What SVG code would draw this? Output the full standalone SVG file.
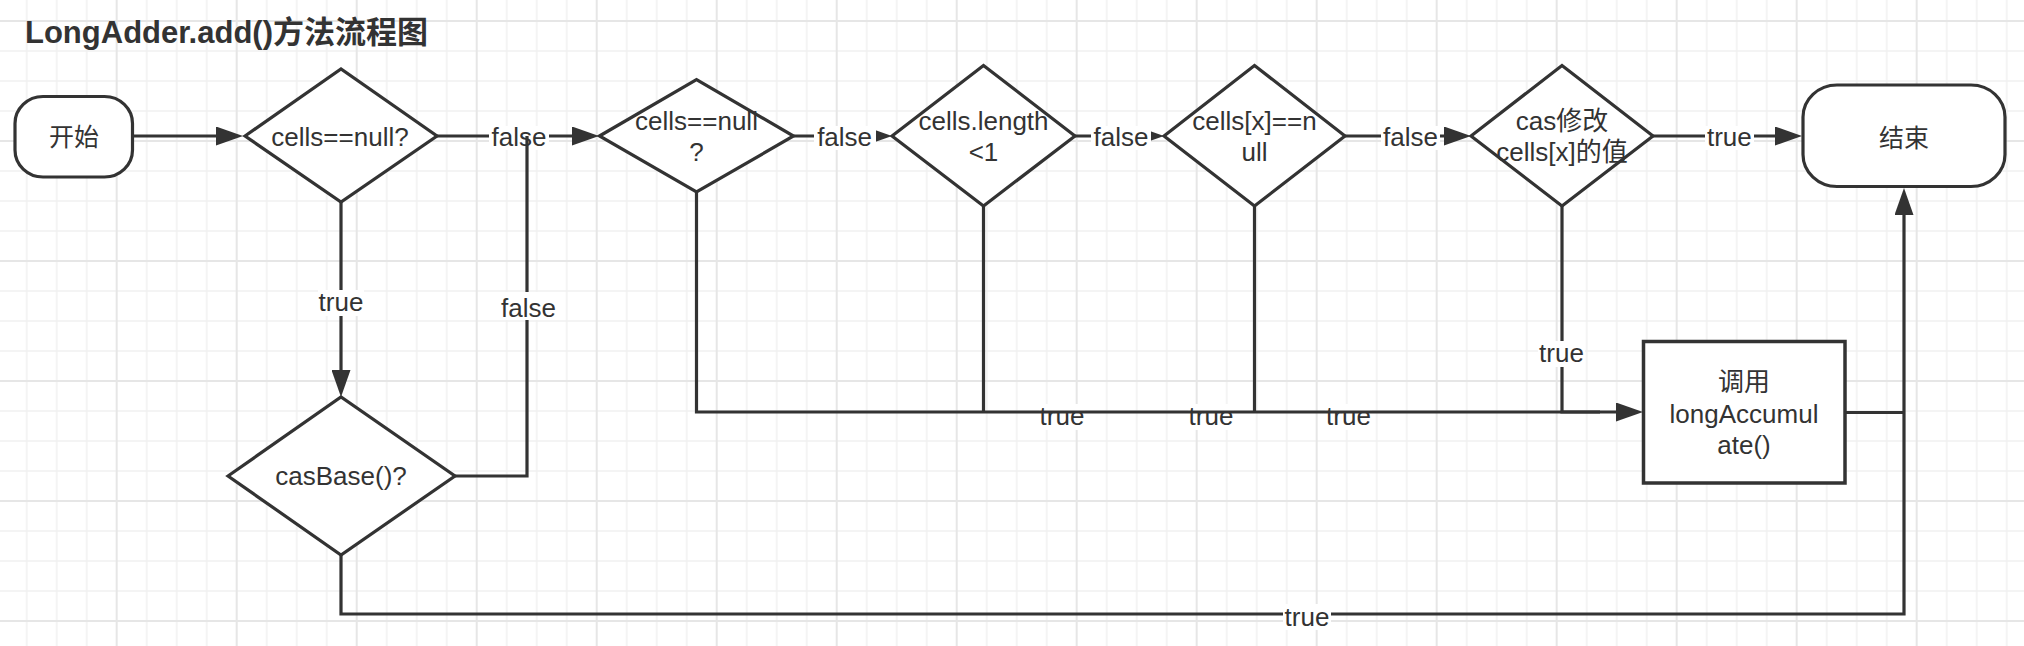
<svg xmlns="http://www.w3.org/2000/svg" width="2024" height="646" viewBox="0 0 2024 646">
<style>
text{font-family:"Liberation Sans","Noto Sans CJK SC",sans-serif;fill:#333;text-anchor:middle}
.n{font-size:26px}
.t{font-size:25px}
.shape{fill:#fff;stroke:#333;stroke-width:3.2;stroke-linejoin:miter}
.e{fill:none;stroke:#333;stroke-width:3.2}
.a{marker-end:url(#arr)}
.lb{fill:#fff}
.l{font-size:26px}
</style>
<defs>
<pattern id="grid" patternUnits="userSpaceOnUse" x="-18.3" y="6" width="120" height="120">
<rect width="120" height="120" fill="#fff"/>
<path d="M45 0V120M75 0V120M105 0V120M0 45H120M0 75H120M0 105H120" stroke="#f1f1f1" stroke-width="1.5"/>
<path d="M15 0V120M0 15H120" stroke="#e6e6e6" stroke-width="2"/>
</pattern>
<marker id="arr" markerUnits="userSpaceOnUse" viewBox="0 0 27 19" markerWidth="27" markerHeight="19" refX="17" refY="9.5" orient="auto">
<path d="M0 0L27 9.5L0 19Z" fill="#333"/>
</marker>
</defs>
<rect width="2024" height="646" fill="url(#grid)"/>
<text x="25" y="43" style="text-anchor:start;font-size:31px;font-weight:bold">LongAdder.add()方法流程图</text>

<g id="connectors">
<path class="e a" d="M133 136H233"/>
<path class="e a" d="M437 136H589"/>
<rect class="lb" x="489" y="126" width="60" height="24"/>
<text class="l" x="519" y="146">false</text>
<path class="e" d="M455 476H527V136"/>
<rect class="lb" x="498" y="292" width="60" height="28"/>
<text class="l" x="528.5" y="317">false</text>
<path class="e a" d="M341 202V387"/>
<rect class="lb" x="318" y="290" width="46" height="26"/>
<text class="l" x="341" y="311">true</text>
<path class="e a" d="M793.5 136H882"/>
<rect class="lb" x="814" y="126" width="62" height="24"/>
<text class="l" x="844.6" y="146">false</text>
<path class="e a" d="M1075 136H1154"/>
<rect class="lb" x="1091" y="126" width="60" height="24"/>
<text class="l" x="1121" y="146">false</text>
<path class="e a" d="M1345 136H1461"/>
<rect class="lb" x="1381" y="126" width="59" height="24"/>
<text class="l" x="1410.5" y="146">false</text>
<path class="e a" d="M1653 136H1792"/>
<rect class="lb" x="1705" y="126" width="49" height="24"/>
<text class="l" x="1729.4" y="146">true</text>
<rect class="lb" x="1039" y="404" width="46" height="26"/>
<text class="l" x="1062" y="425">true</text>
<rect class="lb" x="1188" y="404" width="46" height="26"/>
<text class="l" x="1211" y="425">true</text>
<rect class="lb" x="1325" y="404" width="47" height="26"/>
<text class="l" x="1348.5" y="425">true</text>
<path class="e a" d="M696.5 192V412H1633"/>
<path class="e" d="M983.5 206V412"/>
<path class="e" d="M1254.5 206V412"/>
<path class="e" d="M1562 206V412H1600"/>
<rect class="lb" x="1538" y="341" width="47" height="26"/>
<text class="l" x="1561.5" y="362">true</text>
<path class="e" d="M1845 412.5H1904"/>
<path class="e a" d="M341 555V614H1904V198"/>
<rect class="lb" x="1283" y="604" width="48" height="26"/>
<text class="l" x="1307" y="626">true</text>
</g>

<g id="start">
<rect class="shape" x="15" y="96.5" width="117.5" height="80.5" rx="28" ry="27"/>
<text class="t" x="74" y="146">开始</text>
</g>
<g id="d1">
<polygon class="shape" points="245,136 341,69 437,136 341,202"/>
<text class="n" x="340" y="146">cells==null?</text>
</g>
<g id="casBase">
<polygon class="shape" points="228,476 341,397 455,476 341,555"/>
<text class="n" x="341" y="485">casBase()?</text>
</g>
<g id="d2">
<polygon class="shape" points="599.5,136 696.5,79.5 793.5,136 696.5,192"/>
<text class="n" x="696.5" y="130">cells==null</text>
<text class="n" x="696.5" y="161">?</text>
</g>
<g id="d3">
<polygon class="shape" points="892,136 983.5,65.5 1075,136 983.5,206"/>
<text class="n" x="983.5" y="130">cells.length</text>
<text class="n" x="983.5" y="161">&lt;1</text>
</g>
<g id="d4">
<polygon class="shape" points="1164,136 1254.5,65.5 1345,136 1254.5,206"/>
<text class="n" x="1254.5" y="130">cells[x]==n</text>
<text class="n" x="1254.5" y="161">ull</text>
</g>
<g id="d5">
<polygon class="shape" points="1471,136 1562,65.5 1653,136 1562,206"/>
<text class="n" x="1562" y="130">cas修改</text>
<text class="n" x="1562" y="161">cells[x]的值</text>
</g>
<g id="end">
<rect class="shape" x="1803" y="85" width="202" height="101.5" rx="34" ry="32"/>
<text class="t" x="1904" y="147">结束</text>
</g>
<g id="longAccumulate">
<rect class="shape" x="1643.5" y="341.5" width="201.5" height="141.5" style="stroke-width:3.5"/>
<text class="n" x="1744" y="391">调用</text>
<text class="n" x="1744" y="423">longAccumul</text>
<text class="n" x="1744" y="454">ate()</text>
</g>
</svg>
